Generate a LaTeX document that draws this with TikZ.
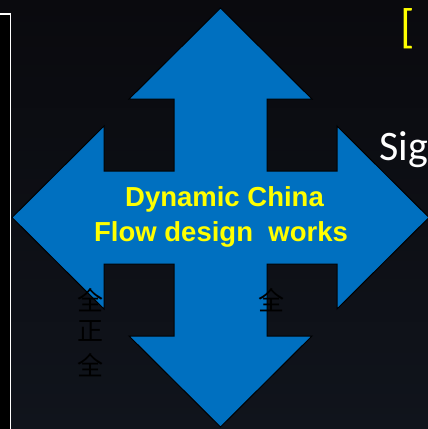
\documentclass[tikz,border=0pt]{standalone}
\usepackage{fontspec}
\newfontfamily\titlefont{Liberation Sans}
\newfontfamily\calfont{Carlito}
\newfontfamily\cjk{Noto Sans CJK SC}
\definecolor{arrowblue}{HTML}{0070C0}
\definecolor{bgtop}{HTML}{0A0A0E}
\definecolor{bgbot}{HTML}{10141C}
\definecolor{titleyellow}{HTML}{FFFF00}
\tikzset{
  quadarrow/.style={fill=arrowblue, draw=black, line width=1pt, line join=miter},
  titleline/.style={anchor=base, inner sep=0pt, text=titleyellow, font=\titlefont\bfseries\fontsize{27.5}{32}\selectfont},
  cjkchar/.style={inner sep=0pt, text=black, font=\cjk\fontsize{26}{26}\selectfont},
  sidetext/.style={anchor=base west, inner sep=0pt, font=\calfont\fontsize{42}{46}\selectfont},
}
\begin{document}
\begin{tikzpicture}[x=1pt,y=-1pt]
\useasboundingbox (0,0) rectangle (428,429);
\shade[top color=bgtop, bottom color=bgbot] (0,0) rectangle (428,429);
% left panel
\draw[fill=black, draw=white, line width=1.5pt] (-5,14) rectangle (10.3,440);
% side texts
\node[sidetext, text=titleyellow, font=\calfont\fontsize{47}{50}\selectfont] (bracket) at (400,42) {[};
\node[sidetext, text=white] (sig) at (379,160) {Sig};
% quad arrow
\draw[quadarrow]
  (220.5,8) -- (312,99) -- (267,99) -- (267,171) -- (337,171) -- (337,126)
  -- (429,217.5) -- (337,309) -- (337,264) -- (267,264) -- (267,336)
  -- (312,336) -- (220.5,427) -- (129,336) -- (174,336) -- (174,264)
  -- (104,264) -- (104,309) -- (12,217.5) -- (104,126) -- (104,171)
  -- (174,171) -- (174,99) -- (129,99) -- cycle;
% title
\node[titleline] (line1) at (224.5,206) {Dynamic China};
\node[titleline] (line2) at (221,241) {Flow design~~works};
% faint chinese characters
\node[cjkchar] (c1) at (90.5,300) {全};
\node[cjkchar] (c2) at (90.5,331) {正};
\node[cjkchar] (c3) at (90.5,365) {全};
\node[cjkchar] (c4) at (271.5,300) {全};
\end{tikzpicture}
\end{document}
